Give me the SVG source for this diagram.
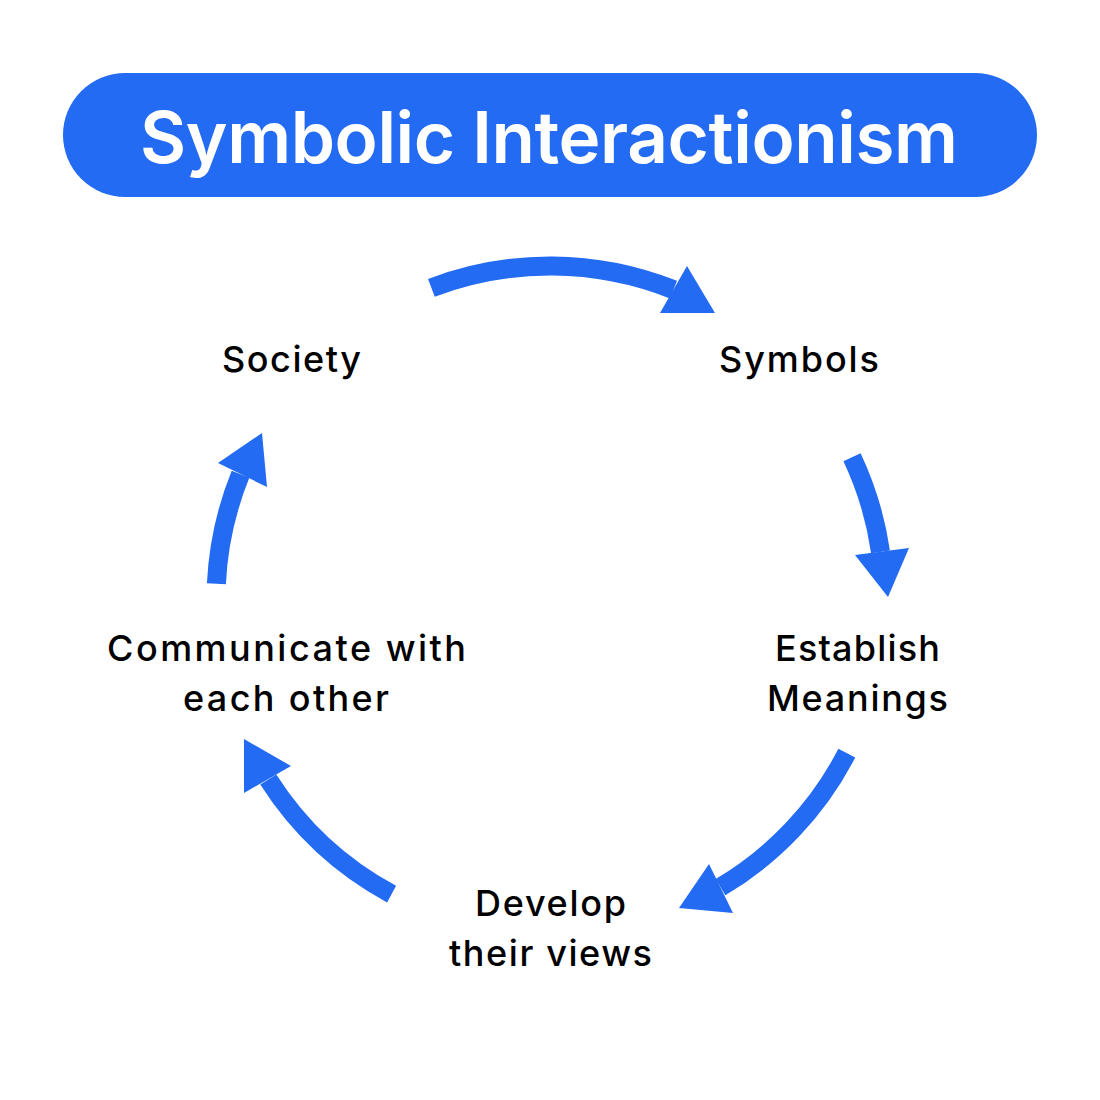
<svg xmlns="http://www.w3.org/2000/svg" width="1100" height="1100" viewBox="0 0 1100 1100">
<style>
.lbl{font-family:Inter,"Noto Sans","Liberation Sans",sans-serif;font-weight:500;font-size:36px;fill:#000;text-anchor:middle}
.title{font-family:Inter,"Noto Sans","Liberation Sans",sans-serif;font-weight:600;font-size:71px;fill:#fff;text-anchor:middle}
.shaft{fill:none;stroke:#236BF2;stroke-width:19;stroke-linecap:butt}
.head{fill:#236BF2}
</style>
<rect width="1100" height="1100" fill="#fff"/>
<g id="title">
<rect x="63" y="73" width="974" height="124" rx="62" ry="62" fill="#236BF2"/>
<text class="title" x="549" y="163" textLength="818" lengthAdjust="spacing">Symbolic Interactionism</text>
</g>
<g id="society"><text class="lbl" x="291.5" y="372" textLength="139" lengthAdjust="spacing">Society</text></g>
<g id="symbols"><text class="lbl" x="799" y="372" textLength="160" lengthAdjust="spacing">Symbols</text></g>
<g id="establish"><text class="lbl" x="857.5" y="661" textLength="165" lengthAdjust="spacing">Establish</text><text class="lbl" x="857.5" y="711" textLength="181" lengthAdjust="spacing">Meanings</text></g>
<g id="develop"><text class="lbl" x="550.5" y="916" textLength="151" lengthAdjust="spacing">Develop</text><text class="lbl" x="550.5" y="966" textLength="203" lengthAdjust="spacing">their views</text></g>
<g id="communicate"><text class="lbl" x="286.5" y="661" textLength="359" lengthAdjust="spacing">Communicate with</text><text class="lbl" x="286" y="711" textLength="206" lengthAdjust="spacing">each other</text></g>
<g id="connectors">
<path class="shaft" d="M431.4,287.8 A334,334 0 0 1 673.5,289.7"/>
<polygon class="head" points="687,266 715,313 660,313"/>
<path class="shaft" d="M852,457.2 A334,334 0 0 1 880.5,551.8"/>
<polygon class="head" points="855,555 909,548 888,597"/>
<path class="shaft" d="M846.8,753.2 A334,334 0 0 1 720.5,887.2"/>
<polygon class="head" points="709,864 679,908 733,913"/>
<path class="shaft" d="M391.6,894.1 A334,334 0 0 1 268.3,779.5"/>
<polygon class="head" points="244,739 244,793 291,766"/>
<path class="shaft" d="M216.4,583.7 A334,334 0 0 1 240.5,474.3"/>
<polygon class="head" points="262,433 218,463 267,487"/>
</g>
</svg>
